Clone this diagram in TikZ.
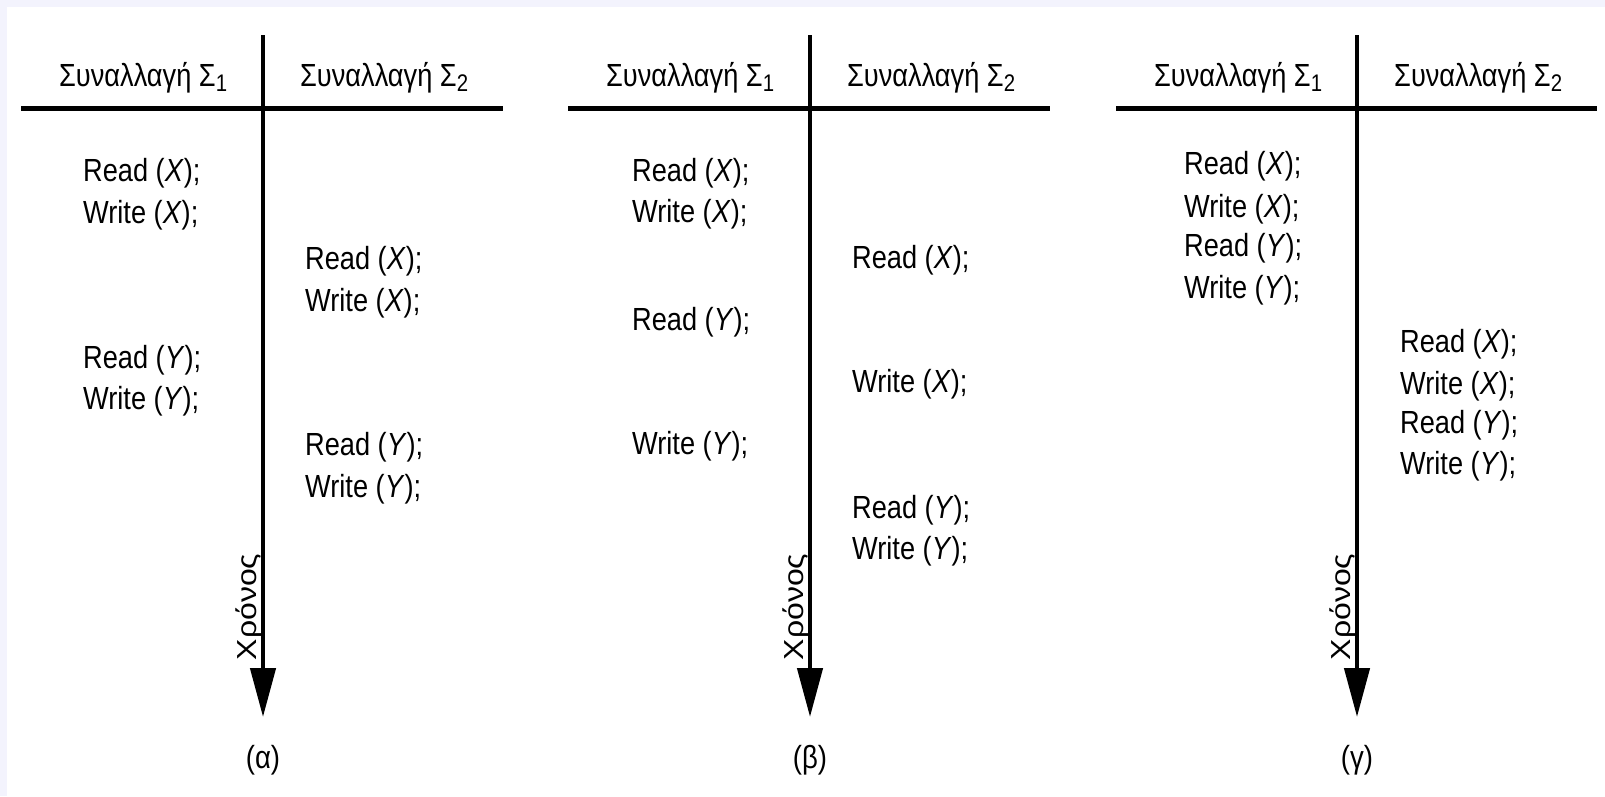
\documentclass[tikz,border=0pt]{standalone}
\usepackage{fontspec}
\setmainfont{Liberation Sans}
\usetikzlibrary{arrows.meta}
\definecolor{bglav}{HTML}{F3F3FD}
\newcommand{\sbsc}[1]{\raisebox{-5pt}{\fontsize{24}{24}\selectfont #1}}
\newcommand{\hdr}[1]{Συναλλαγή Σ\sbsc{#1}}
\begin{document}
\begin{tikzpicture}[x=1pt,y=-1pt,
  txt/.style={anchor=base west,inner sep=0pt,xscale=0.85,font=\fontsize{32}{38}\selectfont},
  hd/.style={txt},
  lbl/.style={anchor=base,inner sep=0pt,xscale=0.86,font=\fontsize{32}{38}\selectfont},
  tlabel/.style={anchor=base,inner sep=0pt,xscale=0.86,rotate=90,font=\fontsize{32}{38}\selectfont},
  axisline/.style={line width=4.5pt,-{Triangle[length=49pt,width=25pt]}},
  ruleline/.style={line width=5pt}]
\fill[bglav] (0,0) rectangle (1605,796);
\fill[white] (7,7) rectangle (1605,796);
\useasboundingbox (0,0) rectangle (1605,796);

% ---------- panel (a) ----------
\coordinate (aT) at (263,35);
\coordinate (aB) at (263,717);
\coordinate (aL) at (21,108);
\coordinate (aR) at (503,108);
\draw[ruleline] (aL) -- (aR);
\draw[axisline] (aT) -- (aB);
\node[hd] (ah1) at (59,86) {\hdr{1}};
\node[hd] (ah2) at (300,86) {\hdr{2}};
\node[txt] (a1) at (83,181) {Read (\textit{X});};
\node[txt] (a2) at (83,223) {Write (\textit{X});};
\node[txt] (a3) at (305,269) {Read (\textit{X});};
\node[txt] (a4) at (305,311) {Write (\textit{X});};
\node[txt] (a5) at (83,368) {Read (\textit{Y});};
\node[txt] (a6) at (83,409) {Write (\textit{Y});};
\node[txt] (a7) at (305,455) {Read (\textit{Y});};
\node[txt] (a8) at (305,497) {Write (\textit{Y});};
\node[tlabel] (at) at (256,607) {Χρόνος};
\node[lbl] (acap) at (263,768) {(α)};

% ---------- panel (b) ----------
\coordinate (bT) at (810,35);
\coordinate (bB) at (810,717);
\coordinate (bL) at (568,108);
\coordinate (bR) at (1050,108);
\draw[ruleline] (bL) -- (bR);
\draw[axisline] (bT) -- (bB);
\node[hd] (bh1) at (606,86) {\hdr{1}};
\node[hd] (bh2) at (847,86) {\hdr{2}};
\node[txt] (b1) at (632,181) {Read (\textit{X});};
\node[txt] (b2) at (632,222) {Write (\textit{X});};
\node[txt] (b3) at (852,268) {Read (\textit{X});};
\node[txt] (b4) at (632,330) {Read (\textit{Y});};
\node[txt] (b5) at (852,392) {Write (\textit{X});};
\node[txt] (b6) at (632,454) {Write (\textit{Y});};
\node[txt] (b7) at (852,518) {Read (\textit{Y});};
\node[txt] (b8) at (852,559) {Write (\textit{Y});};
\node[tlabel] (bt) at (803,607) {Χρόνος};
\node[lbl] (bcap) at (810,768) {(β)};

% ---------- panel (c) ----------
\coordinate (cT) at (1357,35);
\coordinate (cB) at (1357,717);
\coordinate (cL) at (1116,108);
\coordinate (cR) at (1597,108);
\draw[ruleline] (cL) -- (cR);
\draw[axisline] (cT) -- (cB);
\node[hd] (ch1) at (1154,86) {\hdr{1}};
\node[hd] (ch2) at (1394,86) {\hdr{2}};
\node[txt] (c1) at (1184,174) {Read (\textit{X});};
\node[txt] (c2) at (1184,217) {Write (\textit{X});};
\node[txt] (c3) at (1184,256) {Read (\textit{Y});};
\node[txt] (c4) at (1184,298) {Write (\textit{Y});};
\node[txt] (c5) at (1400,352) {Read (\textit{X});};
\node[txt] (c6) at (1400,394) {Write (\textit{X});};
\node[txt] (c7) at (1400,433) {Read (\textit{Y});};
\node[txt] (c8) at (1400,474) {Write (\textit{Y});};
\node[tlabel] (ct) at (1350,607) {Χρόνος};
\node[lbl] (ccap) at (1357,768) {(γ)};
\end{tikzpicture}
\end{document}
